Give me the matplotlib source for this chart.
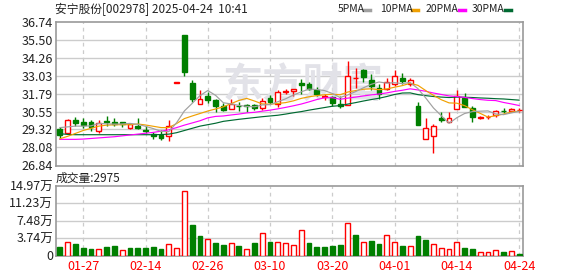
import numpy as np
import matplotlib
matplotlib.use("Agg")
import matplotlib.pyplot as plt
from matplotlib.lines import Line2D

plt.rcParams['font.family'] = ['Noto Sans CJK SC', 'DejaVu Sans']

# trading days shown on the axis (index -> label)
date_idx = [3, 11, 19, 27, 35, 43, 51, 59]
date_labels = ["01-27", "02-14", "02-26", "03-10", "03-20", "04-01", "04-14", "04-24"]

opens = [29.34, 29.08, 29.96, 29.82, 29.86, 29.22, 29.91, 29.82, 29.82, 29.45,
         29.54, 29.27, 29.04, 28.93, 28.86, 32.55, 35.80, 32.52, 31.10, 31.65,
         31.33, 30.92, 30.74, 30.97, 31.01, 31.01, 30.83, 31.51, 31.06, 31.93,
         31.97, 32.52, 32.48, 32.02, 31.59, 31.56, 31.10, 31.01, 32.83, 33.40,
         32.71, 32.16, 32.11, 32.43, 32.89, 32.43, 30.92, 28.63, 28.90, 30.14,
         29.86, 30.74, 31.51, 30.83, 30.14, 30.17, 30.34, 30.62, 30.57, 30.67]
highs = [29.50, 30.07, 30.21, 30.14, 29.95, 29.95, 30.23, 30.14, 29.86, 29.73,
         30.09, 29.54, 29.18, 29.27, 29.95, 32.55, 35.80, 32.71, 32.02, 31.93,
         31.42, 31.15, 31.42, 31.24, 31.06, 31.06, 31.51, 31.70, 32.02, 32.11,
         32.11, 32.80, 32.57, 32.25, 31.74, 31.65, 31.61, 34.04, 33.58, 33.49,
         33.12, 32.43, 32.89, 33.40, 33.21, 32.85, 31.19, 30.14, 29.68, 30.51,
         30.51, 32.02, 31.84, 30.97, 30.28, 30.32, 30.69, 30.78, 30.80, 30.83]
lows = [28.65, 29.02, 29.59, 29.45, 29.22, 29.09, 29.59, 29.54, 29.50, 29.36,
        29.36, 29.09, 28.68, 28.59, 28.54, 32.55, 33.01, 31.19, 31.10, 31.15,
        30.55, 30.60, 30.74, 30.60, 30.55, 30.69, 30.65, 31.10, 30.88, 31.74,
        31.65, 31.74, 32.06, 31.65, 31.38, 30.97, 30.78, 31.01, 32.16, 32.57,
        32.06, 31.42, 32.06, 32.34, 32.43, 32.34, 29.64, 28.63, 27.71, 29.86,
        29.82, 30.74, 30.87, 29.82, 30.05, 30.05, 30.18, 30.45, 30.55, 30.51]
closes = [28.95, 30.00, 29.77, 29.64, 29.50, 29.80, 29.84, 29.68, 29.68, 29.68,
          29.45, 29.22, 28.86, 28.74, 29.59, 32.55, 33.28, 31.42, 31.42, 31.33,
          30.92, 30.69, 31.06, 30.92, 30.97, 30.78, 31.31, 31.19, 31.88, 31.97,
          32.11, 32.41, 32.11, 31.74, 31.61, 31.15, 30.97, 33.03, 32.87, 32.94,
          32.34, 31.79, 32.62, 32.99, 32.66, 32.75, 29.64, 29.41, 29.54, 30.00,
          30.09, 31.61, 30.87, 30.19, 30.16, 30.19, 30.57, 30.59, 30.76, 30.69]

ma5 = [29.45, 29.50, 29.55, 29.55, 29.57, 29.74, 29.71, 29.69, 29.70, 29.74,
       29.67, 29.54, 29.38, 29.19, 29.17, 29.79, 30.60, 31.12, 31.65, 32.00,
       31.67, 31.16, 31.08, 30.98, 30.91, 30.88, 31.01, 31.03, 31.23, 31.43,
       31.69, 31.91, 32.10, 32.07, 32.00, 31.80, 31.52, 31.70, 31.93, 32.19,
       32.43, 32.59, 32.51, 32.54, 32.48, 32.56, 32.13, 31.49, 30.80, 30.27,
       29.74, 30.13, 30.42, 30.55, 30.58, 30.60, 30.39, 30.34, 30.46, 30.57]
ma10 = [28.68, 28.85, 29.05, 29.25, 29.40, 29.55, 29.62, 29.64, 29.65, 29.65,
        29.70, 29.63, 29.54, 29.45, 29.45, 29.73, 30.07, 30.25, 30.42, 30.59,
        30.73, 30.88, 31.10, 31.32, 31.46, 31.28, 31.08, 31.06, 31.11, 31.17,
        31.29, 31.46, 31.57, 31.65, 31.71, 31.75, 31.71, 31.90, 32.00, 32.09,
        32.12, 32.06, 32.11, 32.23, 32.34, 32.50, 32.36, 32.00, 31.67, 31.37,
        31.15, 31.13, 30.96, 30.68, 30.43, 30.17, 30.27, 30.38, 30.52, 30.59]
ma20 = [28.64, 28.64, 28.64, 28.66, 28.70, 28.74, 28.78, 28.82, 28.88, 28.94,
        29.00, 29.06, 29.12, 29.20, 29.30, 29.45, 29.62, 29.77, 29.92, 30.12,
        30.22, 30.25, 30.32, 30.38, 30.46, 30.50, 30.58, 30.65, 30.74, 30.84,
        30.95, 31.07, 31.22, 31.38, 31.50, 31.51, 31.40, 31.48, 31.55, 31.63,
        31.70, 31.76, 31.84, 31.94, 32.02, 32.12, 32.04, 31.95, 31.83, 31.73,
        31.63, 31.59, 31.53, 31.45, 31.38, 31.33, 31.31, 31.18, 31.08, 30.97]
ma30 = [29.03, 28.98, 28.96, 28.96, 28.96, 28.96, 28.96, 28.96, 28.96, 28.96,
        28.96, 28.96, 28.96, 28.97, 29.00, 29.10, 29.25, 29.40, 29.55, 29.65,
        29.75, 29.88, 29.95, 30.02, 30.08, 30.14, 30.20, 30.25, 30.30, 30.38,
        30.47, 30.55, 30.65, 30.74, 30.83, 30.92, 30.96, 31.07, 31.17, 31.28,
        31.38, 31.47, 31.59, 31.73, 31.83, 31.84, 31.72, 31.65, 31.59, 31.55,
        31.52, 31.55, 31.54, 31.52, 31.49, 31.47, 31.44, 31.42, 31.38, 31.34]

# volume in 万 shares
volume = [1.74, 2.82, 2.39, 1.59, 1.30, 1.45, 1.74, 1.95, 1.23, 1.52,
          1.52, 1.52, 1.74, 1.30, 2.53, 1.66, 13.81, 6.51, 4.12, 3.62,
          2.60, 2.17, 2.60, 1.95, 1.45, 2.60, 4.77, 2.82, 2.96, 2.60,
          2.31, 5.57, 2.60, 1.74, 1.74, 1.95, 2.17, 7.09, 4.34, 2.96,
          3.04, 2.39, 4.48, 2.96, 1.95, 2.10, 4.12, 3.25, 2.53, 1.66,
          1.45, 2.96, 1.52, 1.30, 0.80, 0.80, 1.23, 0.65, 1.01, 0.2975]
vol_up_idx = [1, 5, 8, 14, 15, 16, 19, 22, 24, 26, 28, 29, 30, 31, 37, 39,
              42, 43, 45, 48, 49, 50, 51, 54, 55, 56, 58]

price_ticks = [26.84, 28.08, 29.32, 30.55, 31.79, 33.03, 34.26, 35.50, 36.74]
vol_ticks = [0, 3.74, 7.48, 11.23, 14.97]
vol_tick_labels = ["0", "3.74万", "7.48万", "11.23万", "14.97万"]

RED = "#ff0000"
GREEN = "#007f00"
GRID = "#cccccc"
FRAME = "#999999"

W, H = 578, 276
fig = plt.figure(figsize=(W / 100, H / 100), dpi=100)
ax = fig.add_axes([56 / W, 1 - 165.5 / H, 467 / W, 143.8 / H])
axv = fig.add_axes([56 / W, 1 - 255.5 / H, 467 / W, 69.5 / H])

n = len(closes)
x = np.arange(n)
o = np.array(opens); c = np.array(closes)
hi = np.array(highs); lo = np.array(lows)
up = c >= o
bw = 0.62

for a in (ax, axv):
    a.set_xlim(-0.5, n - 0.5)
    for s in a.spines.values():
        s.set_color(FRAME)
        s.set_linewidth(1.2)
    for d in date_idx:
        a.axvline(d, color=GRID, lw=0.9, ls=(0, (3, 3)), zorder=0)
    a.tick_params(length=0, labelsize=9, colors="#222222", pad=2)

# price panel
ax.set_ylim(26.84, 36.74)
ax.set_yticks(price_ticks)
ax.set_yticklabels([f"{t:.2f}" for t in price_ticks])
for t in price_ticks[1:-1]:
    ax.axhline(t, color=GRID, lw=1, zorder=0)
ax.set_xticks([])

ax.text(0.53, 0.55, "东方财富", transform=ax.transAxes, ha="center", va="center",
        fontsize=29, fontweight="bold", color="#e2e2e8", zorder=0)

ax.vlines(x[up], lo[up], hi[up], color=RED, lw=1, zorder=2)
ax.vlines(x[~up], lo[~up], hi[~up], color=GREEN, lw=1, zorder=2)
body_h = np.maximum(np.abs(c - o), 0.025)
body_b = np.minimum(c, o)
ax.bar(x[up], body_h[up], bw, bottom=body_b[up], facecolor="white",
       edgecolor=RED, linewidth=1, zorder=3)
ax.bar(x[~up], body_h[~up], bw, bottom=body_b[~up], facecolor=GREEN,
       edgecolor=GREEN, linewidth=1, zorder=3)

ma_colors = ["#a0a0a0", "#f0a000", "#ff00ff", "#006a32"]
for ma, col in zip([ma30, ma20, ma10, ma5], ma_colors[::-1]):
    ax.plot(x, ma, color=col, lw=0.85, zorder=4)

# volume panel
axv.set_ylim(0, 14.97)
axv.set_yticks(vol_ticks)
axv.set_yticklabels(vol_tick_labels)
for t in vol_ticks[1:-1]:
    axv.axhline(t, color=GRID, lw=1, zorder=0)
vol = np.array(volume)
vup = np.zeros(n, dtype=bool)
vup[vol_up_idx] = True
axv.bar(x[vup], vol[vup], bw, facecolor="white", edgecolor=RED, linewidth=1, zorder=3)
axv.bar(x[~vup], vol[~vup], bw, facecolor=GREEN, edgecolor=GREEN, linewidth=1, zorder=3)
axv.set_xticks(date_idx)
axv.set_xticklabels(date_labels, color=RED)
axv.tick_params(axis="x", pad=3)

# header texts
fig.text(55 / W, 1 - 9 / H, "安宁股份[002978] 2025-04-24  10:41", ha="left",
         va="center", fontsize=8.5, color="#222222")
fig.text(56 / W, 1 - 178 / H, "成交量:2975", ha="left", va="center",
         fontsize=8.5, color="#222222")

legend_items = [("5PMA", 338, 364), ("10PMA", 380, 412),
                ("20PMA", 426, 459), ("30PMA", 472, 505)]
for (lab, tx, mx), col in zip(legend_items, ma_colors):
    fig.text(tx / W, 1 - 9 / H, lab, ha="left", va="center", fontsize=7.5,
             color="#222222")
    fig.add_artist(Line2D([mx / W, (mx + 6) / W], [1 - 9.5 / H, 1 - 9.5 / H],
                          color=col, lw=2.5, transform=fig.transFigure))

fig.savefig("out.png", dpi=100)
